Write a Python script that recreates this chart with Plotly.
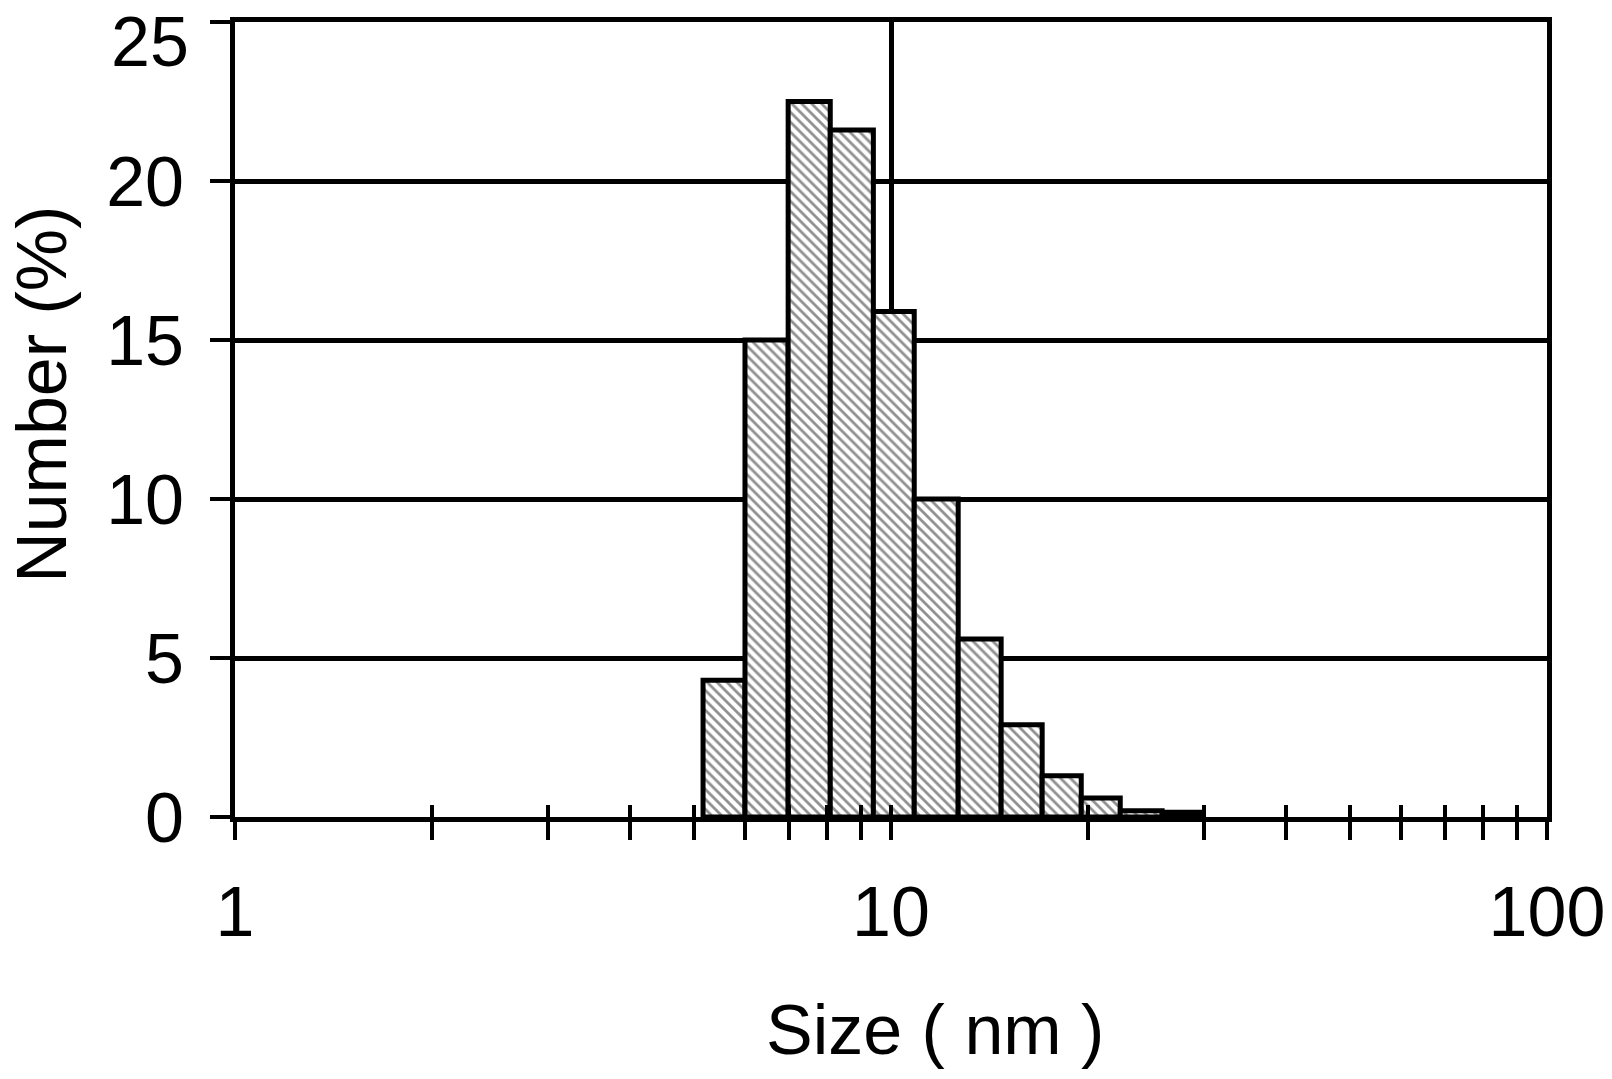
import plotly.graph_objects as go

bin_edges = [5.17, 5.99, 6.97, 8.08, 9.40, 10.85, 12.66, 14.72, 17.00, 19.50, 22.36, 25.9, 29.9]
number_pct = [4.3, 15.0, 22.5, 21.6, 15.9, 10.0, 5.6, 2.9, 1.3, 0.6, 0.2, 0.15]

x_ticks = [1, 2, 3, 4, 5, 6, 7, 8, 9, 10, 20, 30, 40, 50, 60, 70, 80, 90, 100]
x_tick_labels = ["1" if v == 1 else "10" if v == 10 else "100" if v == 100 else "" for v in x_ticks]
y_ticks = [0, 5, 10, 15, 20, 25]
y_tick_labels = ["0", "5", "10", "15", "20", ""]   # "25" placed as annotation (sits lower in original)

lefts = bin_edges[:-1]
widths = [b - a for a, b in zip(bin_edges[:-1], bin_edges[1:])]

FONT = "Liberation Sans, Arial, sans-serif"
XR = [0, 2]
YR = [0, 25]

fig = go.Figure()
fig.add_trace(go.Bar(
    x=lefts, y=number_pct, width=widths, offset=0,
    marker=dict(
        color="white",
        line=dict(color="black", width=5),
        pattern=dict(shape="\\", fgcolor="#222222", bgcolor="white", size=7, solidity=0.4),
    ),
    showlegend=False,
))

fig.update_layout(
    width=1612, height=1079,
    margin=dict(l=235, r=65, t=22, b=262),
    plot_bgcolor="white", paper_bgcolor="white",
    font=dict(family=FONT, color="black"),
    xaxis=dict(
        type="log", range=XR, automargin=False,
        tickmode="array", tickvals=x_ticks, ticktext=x_tick_labels,
        ticks="outside", ticklen=18, tickwidth=4, tickcolor="black",
        showline=True, linewidth=5, linecolor="black", mirror=True,
        showgrid=False, zeroline=False,
        tickfont=dict(size=70, family=FONT), ticklabelstandoff=12,
        ticklabeloverflow="allow",
    ),
    xaxis2=dict(
        type="log", range=XR, overlaying="x", anchor="y", side="bottom", automargin=False,
        tickmode="array", tickvals=x_ticks,
        ticks="inside", ticklen=12, tickwidth=4, tickcolor="black",
        showticklabels=False, showline=False, showgrid=False, zeroline=False,
    ),
    xaxis3=dict(
        type="log", range=XR, overlaying="x", anchor="y", side="bottom", automargin=False,
        tickmode="array", tickvals=[1, 10, 100],
        ticks="", showticklabels=False, showline=False,
        showgrid=True, gridcolor="black", gridwidth=5, zeroline=False,
    ),
    yaxis=dict(
        range=YR, automargin=False, tickmode="array", tickvals=y_ticks, ticktext=y_tick_labels,
        ticks="outside", ticklen=20, tickwidth=4, tickcolor="black",
        showline=True, linewidth=5, linecolor="black", mirror=True,
        showgrid=True, gridcolor="black", gridwidth=5, zeroline=False,
        tickfont=dict(size=70, family=FONT), ticklabelstandoff=12,
        ticklabeloverflow="allow",
    ),
    annotations=[
        dict(text="25", xref="paper", yref="y", x=-0.0335, y=25, yshift=-20,
             xanchor="right", yanchor="middle", showarrow=False,
             font=dict(size=70, family=FONT, color="black")),
        dict(text="Size ( nm )", xref="paper", yref="paper", x=0.5335, y=-0.2679,
             xanchor="center", yanchor="middle", showarrow=False,
             font=dict(size=70, family=FONT, color="black")),
        dict(text="Number (%)", xref="paper", yref="paper", x=-0.1471, y=0.531,
             xanchor="center", yanchor="middle", textangle=-90, showarrow=False,
             font=dict(size=70, family=FONT, color="black")),
    ],
)

# invisible traces to activate the overlay axes
fig.add_trace(go.Scatter(x=[1, 100], y=[0, 0], xaxis="x2", mode="none", showlegend=False, hoverinfo="skip"))
fig.add_trace(go.Scatter(x=[1, 100], y=[0, 0], xaxis="x3", mode="none", showlegend=False, hoverinfo="skip"))

fig.write_html("out.html", config={"displayModeBar": False},
               post_script="document.body.style.margin='0px';")
